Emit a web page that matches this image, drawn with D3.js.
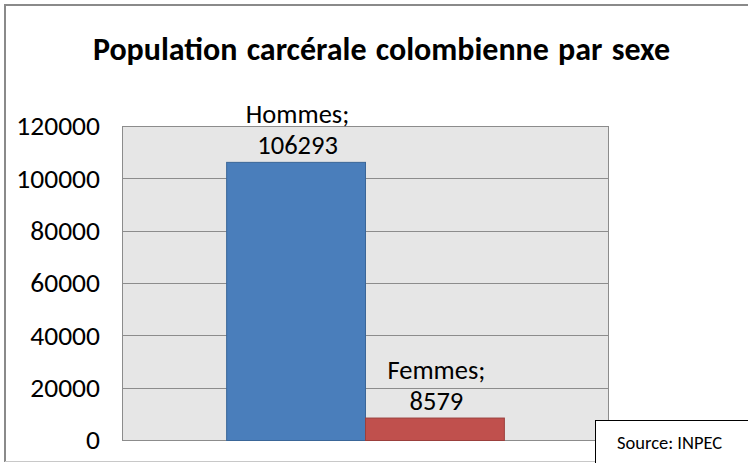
<!DOCTYPE html>
<html>
<head>
<meta charset="utf-8">
<script src="https://cdn.jsdelivr.net/npm/d3@7"></script>
<style>
  body { margin: 0; background: #fff; }
  svg text { font-family: "Carlito", "Liberation Sans", sans-serif; fill: #000; }
</style>
</head>
<body>
<div id="chart"></div>
<script>
// Population carcérale colombienne par sexe (source: INPEC)
var seriesNames = ["Hommes", "Femmes"];
var seriesValues = [106293, 8579];
var seriesColors = ["#4a7ebb", "#c0504d"];
var seriesStrokes = ["#3a6698", "#9b3f3c"];
var yTicks = [0, 20000, 40000, 60000, 80000, 100000, 120000];

const width = 748;
const height = 463;
const plot = {left: 122, top: 126, right: 608, bottom: 440};

var svg = d3.select("#chart")
  .append("svg")
  .attr("width", width)
  .attr("height", height);

// outer chart frame
svg.append("line")
  .attr("x1", 5).attr("x2", 5).attr("y1", 4).attr("y2", 462)
  .attr("stroke", "#8a8a8a").attr("stroke-width", 2);
svg.append("line")
  .attr("x1", 4).attr("x2", width).attr("y1", 5).attr("y2", 5)
  .attr("stroke", "#8a8a8a").attr("stroke-width", 2);
svg.append("line")
  .attr("x1", 5).attr("x2", width).attr("y1", 461.5).attr("y2", 461.5)
  .attr("stroke", "#c8c8c8").attr("stroke-width", 1);

svg.append("text")
  .attr("x", 381.5)
  .attr("y", 60)
  .attr("text-anchor", "middle")
  .style("font-size", "32px")
  .style("font-weight", "bold")
  .style("word-spacing", "2px")
  .text("Population carcérale colombienne par sexe");

var x = d3.scaleBand()
  .domain(seriesNames)
  .range([plot.left, plot.right])
  .paddingInner(0)
  .paddingOuter(0.75);

var y = d3.scaleLinear()
  .domain([0, 120000])
  .range([plot.bottom, plot.top]);

// plot background
svg.append("rect")
  .attr("x", plot.left + 0.5)
  .attr("y", plot.top + 0.5)
  .attr("width", plot.right - plot.left)
  .attr("height", plot.bottom - plot.top)
  .attr("fill", "#e6e6e6")
  .attr("stroke", "#8c8c8c");

// gridlines
svg.append("g")
  .selectAll("line")
  .data(yTicks)
  .enter()
  .append("line")
  .attr("x1", plot.left)
  .attr("x2", plot.right)
  .attr("y1", function(d) { return Math.round(y(d)) + 0.5; })
  .attr("y2", function(d) { return Math.round(y(d)) + 0.5; })
  .attr("stroke", "#8c8c8c");

// y axis labels
var yAxis = d3.axisLeft(y)
  .tickValues(yTicks)
  .tickSize(0)
  .tickPadding(0)
  .tickFormat(d3.format("d"));

var yG = svg.append("g")
  .attr("transform", "translate(100,0)")
  .call(yAxis);
yG.select(".domain").remove();
yG.selectAll("text")
  .style("font-size", "27.5px")
  .style("font-family", "Carlito, 'Liberation Sans', sans-serif")
  .attr("fill", "#000");

// bars
svg.append("g")
  .selectAll("rect")
  .data(seriesValues)
  .enter()
  .append("rect")
  .attr("x", function(d, i) { return x(seriesNames[i]) + 0.5; })
  .attr("y", function(d) { return y(d) + 0.5; })
  .attr("width", x.bandwidth())
  .attr("height", function(d) { return y(0) - y(d); })
  .attr("fill", function(d, i) { return seriesColors[i]; })
  .attr("stroke", function(d, i) { return seriesStrokes[i]; });

// data labels "Nom;" / value
var labels = svg.append("g")
  .selectAll("g")
  .data(seriesValues)
  .enter()
  .append("g");

labels.append("text")
  .attr("x", function(d, i) { return x(seriesNames[i]) + x.bandwidth() / 2 + 2; })
  .attr("y", function(d) { return y(d) - 39; })
  .attr("text-anchor", "middle")
  .style("font-size", "26.5px")
  .text(function(d, i) { return seriesNames[i] + ";"; });

labels.append("text")
  .attr("x", function(d, i) { return x(seriesNames[i]) + x.bandwidth() / 2 + 2; })
  .attr("y", function(d) { return y(d) - 8; })
  .attr("text-anchor", "middle")
  .style("font-size", "26.5px")
  .text(function(d) { return d; });

// source box
svg.append("rect")
  .attr("x", 595.5)
  .attr("y", 420.5)
  .attr("width", 200)
  .attr("height", 100)
  .attr("fill", "#fff")
  .attr("stroke", "#000");

svg.append("text")
  .attr("x", 617)
  .attr("y", 449)
  .style("font-size", "18.5px")
  .text("Source: INPEC");
</script>
</body>
</html>
